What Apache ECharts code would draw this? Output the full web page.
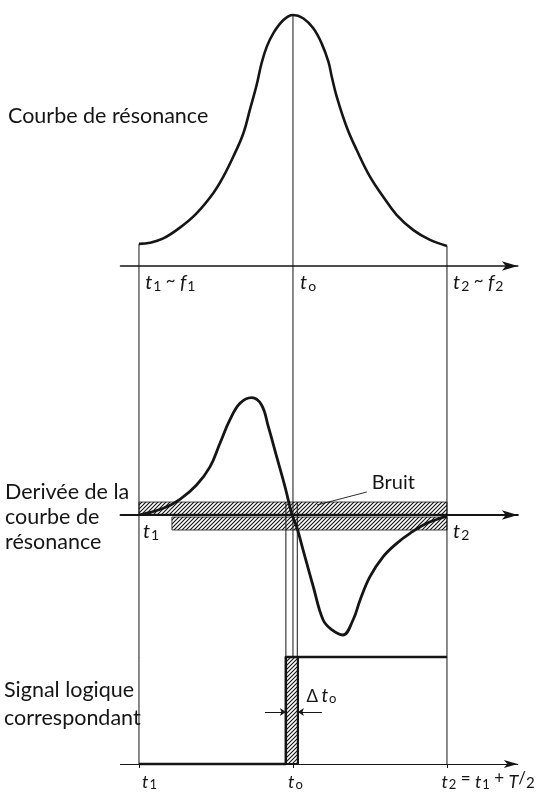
<!DOCTYPE html>
<html>
<head>
<meta charset="utf-8">
<script src="https://cdn.jsdelivr.net/npm/echarts@6/dist/echarts.min.js"></script>
<style>
  html, body { margin: 0; padding: 0; background: #fff; }
  #chart { width: 537px; height: 792px; }
</style>
</head>
<body>
<div id="chart"></div>
<script>
// courbe de résonance (t1 = 0, t0 = 50, t2 = 100)
var resT = [0, 3.6, 7.9, 13.3, 18.7, 24.1, 27.4, 30.6, 33.9, 36.0, 38.2, 39.8, 41.5, 43.6, 46.9, 50,
            53.3, 56.6, 59.3, 61.5, 62.6, 64.2, 67.4, 70.7, 75.0, 79.3, 83.7, 89.1, 94.5, 100];
var resV = [8.8, 9.3, 11.0, 15.3, 21.0, 29.0, 35.6, 43.5, 52.9, 62.2, 72.1, 80.8, 87.4, 92.7, 98.0, 100,
            98.7, 94.7, 88.7, 81.4, 75.4, 67.5, 55.5, 46.2, 35.6, 27.6, 20.3, 14.3, 10.4, 8.0];

// dérivée
var derT = [0, 7.9, 13.3, 18.7, 23.1, 26.3, 29.5, 32.8, 36.6, 39.8, 42.0, 44.7, 47.4, 49.0, 49.7,
            51.2, 53.3, 56.6, 59.8, 62.7, 66.2, 69.5, 71.8, 75.0, 79.3, 83.7, 88.0, 93.4, 99.4, 100];
var derV = [0, 5.6, 13.1, 25, 40.3, 59.8, 79.2, 93.1, 97.8, 91.7, 73.6, 48.6, 23.6, 6.9, 0,
            -9.8, -29.2, -59.8, -87.5, -95.8, -100, -87.5, -70.8, -51.4, -34.7, -23.6, -15.3, -6.9, -1.4, -0.8];

// bandes de bruit [x0, x1, y0, y1]
var noiseBands = [[0, 100, 0.6, 10.8], [10.7, 100, -1.7, -12.5]];
var crossT = [47.7, 51.4];          // entrée / sortie de la bande de bruit
var bruitLeader = [[74.0, 19.2], [57.8, 8.3]];

// signal logique
var signalT = [0, 47.7, 47.7, 100];
var signalV = [0, 0, 1, 1];
var deltaBox = [[47.7, 51.6, 0, 1]];
var deltaArrows = [[[40.9, 0.486], [47.7, 0.486]], [[59.4, 0.486], [51.6, 0.486]]];

var guideT = [0, 50, 100];

// graduations et libellés
var topTicks = [0, 50, 100];
var topLabelAt = [2, 52.3, 102];
var topLabels = ['{t|t}{s|1} ~ {t|f}{s|1}', '{t|t}{s|o}', '{t|t}{s|2} ~ {t|f}{s|2}'];
var midLabelAt = [1.3, 102];
var midLabels = ['{t|t}{s|1}', '{t|t}{s|2}'];
var botTicks = [0, 50, 100];
var botLabelAt = [1, 48.4, 98.2];
var botLabels = ['{t|t}{s|1}', '{t|t}{s|o}', '{t|t}{s|2} = {t|t}{s|1} + {t|T}/{f|2}'];

var ink = '#151515';
var font = 'Lato';

function zip(a, b) {
  return a.map(function (v, i) { return [v, b[i]]; });
}

// motif hachuré
var hatch = document.createElement('canvas');
hatch.width = 4; hatch.height = 4;
(function () {
  var c = hatch.getContext('2d');
  c.strokeStyle = '#111';
  c.lineWidth = 1.1;
  c.beginPath();
  c.moveTo(-1, 5); c.lineTo(5, -1);
  c.moveTo(-1, 1); c.lineTo(1, -1);
  c.moveTo(3, 5); c.lineTo(5, 3);
  c.stroke();
})();
var hatchFill = { image: hatch, repeat: 'repeat' };

function richSet(big, small) {
  return {
    t: { fontFamily: font, fontStyle: 'italic', fontSize: big, color: ink, lineHeight: 24, verticalAlign: 'bottom' },
    s: { fontFamily: font, fontSize: small, color: ink, lineHeight: 24, verticalAlign: 'bottom', padding: [10, 0, 0, 1] },
    f: { fontFamily: font, fontSize: small + 2, color: ink, lineHeight: 24, verticalAlign: 'bottom', padding: [8, 0, 0, 0] },
    d: { fontFamily: font, fontSize: big - 2, color: ink, lineHeight: 24, verticalAlign: 'bottom' }
  };
}
var richText = richSet(20, 14);
var richSmall = richSet(18, 13);

function xAxisFor(grid, ticks, labelAt, labels, lw, arrow, showTick, rich) {
  return {
    gridIndex: grid, type: 'value', min: -6, max: 123,
    axisLine: { onZero: true, symbol: ['none', 'arrow'], symbolSize: arrow, lineStyle: { color: ink, width: lw } },
    axisTick: { show: showTick, customValues: ticks, length: 4, lineStyle: { color: ink } },
    splitLine: { show: false },
    axisLabel: {
      show: !!labels, customValues: labelAt, align: 'left', margin: 3,
      formatter: function (v) { return labels[labelAt.indexOf(v)]; },
      rich: rich, color: ink, fontFamily: font, fontSize: 17
    }
  };
}

function rectItem(params, api) {
  var a = api.coord([api.value(0), api.value(3)]);
  var b = api.coord([api.value(1), api.value(2)]);
  return {
    type: 'rect',
    shape: { x: Math.min(a[0], b[0]), y: Math.min(a[1], b[1]), width: Math.abs(b[0] - a[0]), height: Math.abs(b[1] - a[1]) },
    style: { fill: hatchFill, stroke: ink, lineWidth: params.seriesName === 'delta' ? 2.2 : 0.8 }
  };
}

function seg(grid, pts, w) {
  return {
    type: 'line', xAxisIndex: grid, yAxisIndex: grid, data: pts,
    symbol: 'none', clip: false, silent: true,
    lineStyle: { color: ink, width: w }
  };
}

function textAt(grid, pts, names, label) {
  return {
    type: 'scatter', xAxisIndex: grid, yAxisIndex: grid, symbolSize: 0, silent: true,
    itemStyle: { opacity: 1 },
    data: pts.map(function (p, i) { return { value: p, name: names[i] }; }),
    label: Object.assign({ show: true, color: ink, opacity: 1,
      formatter: function (p) { return p.name; } }, label)
  };
}

var series = [];
// guides verticales
series.push(seg(0, [[guideT[0], resV[0]], [guideT[0], 0]], 1));
series.push(seg(0, [[guideT[1], 100], [guideT[1], 0]], 1));
series.push(seg(0, [[guideT[2], resV[resV.length - 1]], [guideT[2], 0]], 1));
guideT.forEach(function (t) { series.push(seg(1, [[t, 207.5], [t, -118.5]], 1)); });
crossT.forEach(function (t) { series.push(seg(1, [[t, noiseBands[0][3]], [t, -118.5]], 1)); });
series.push(seg(2, [[guideT[0], 1], [guideT[0], 0]], 1));
series.push(seg(2, [[guideT[2], 1], [guideT[2], 0]], 1));

// bruit
series.push({
  type: 'custom', name: 'noise', xAxisIndex: 1, yAxisIndex: 1, data: noiseBands,
  encode: { x: [0, 1], y: [2, 3] }, renderItem: rectItem, silent: true
});
series.push(seg(1, bruitLeader, 0.9));
series.push(textAt(1, [[75.6, 26.7]], ['Bruit'],
  { position: 'right', distance: 0, fontFamily: font, fontSize: 20 }));
// libellés t1 / t2 sur l'axe de la dérivée
series.push(textAt(1, midLabelAt.map(function (x) { return [x, 0]; }), midLabels,
  { position: 'bottom', align: 'left', distance: 3, rich: richText }));

// courbes
series.push({
  type: 'line', xAxisIndex: 0, yAxisIndex: 0, data: zip(resT, resV), smooth: 0.4,
  symbol: 'none', clip: false, lineStyle: { color: ink, width: 2.6 }
});
series.push({
  type: 'line', xAxisIndex: 1, yAxisIndex: 1, data: zip(derT, derV), smooth: 0.4,
  symbol: 'none', clip: false, lineStyle: { color: ink, width: 2.8 }
});

// signal logique
series.push({
  type: 'custom', name: 'delta', xAxisIndex: 2, yAxisIndex: 2, data: deltaBox,
  encode: { x: [0, 1], y: [2, 3] }, renderItem: rectItem, silent: true, clip: false
});
series.push(seg(2, zip(signalT, signalV), 2.4));
series.push({
  type: 'lines', coordinateSystem: 'cartesian2d', xAxisIndex: 2, yAxisIndex: 2, silent: true,
  symbol: ['none', 'arrow'], symbolSize: 6,
  lineStyle: { color: ink, width: 1, opacity: 1 },
  data: deltaArrows.map(function (c) { return { coords: c }; })
});
series.push(textAt(2, [[54.4, 0.66]], ['{d|\u0394} {t|t}{s|o}'],
  { position: 'right', distance: 0, rich: richSet(19, 13) }));

var chart = echarts.init(document.getElementById('chart'), null, { renderer: 'canvas' });
var titleStyle = { fontFamily: font, fontWeight: 'normal', fontSize: 21.5, color: ink };
chart.setOption({
  animation: false,
  backgroundColor: '#fff',
  title: [
    { text: 'Courbe de résonance', left: 8, top: 105, padding: 0, textStyle: titleStyle },
    { text: 'Derivée de la\ncourbe de\nrésonance', left: 5, top: 480, padding: 0,
      textStyle: Object.assign({ lineHeight: 25 }, titleStyle) },
    { text: 'Signal logique\ncorrespondant', left: 4, top: 676, padding: 0,
      textStyle: Object.assign({ lineHeight: 28 }, titleStyle) }
  ],
  grid: [
    { left: 120.5, right: 19.2, top: 10, bottom: 526, outerBoundsMode: 'none' },
    { left: 120.5, right: 19.2, top: 266, bottom: 134.8, outerBoundsMode: 'none' },
    { left: 120.5, right: 19.2, top: 657, bottom: 28, outerBoundsMode: 'none' }
  ],
  xAxis: [
    xAxisFor(0, topTicks, topLabelAt, topLabels, 1.5, [7, 16], false, richText),
    xAxisFor(1, [0, 100], [], null, 2, [7, 16], false, richText),
    xAxisFor(2, botTicks, botLabelAt, botLabels, 1, [6, 14], true, richSmall)
  ],
  yAxis: [
    { gridIndex: 0, type: 'value', min: 0, max: 102, show: false },
    { gridIndex: 1, type: 'value', min: -118.5, max: 207.5, show: false },
    { gridIndex: 2, type: 'value', min: 0, max: 1, show: false }
  ],
  series: series
});
</script>
</body>
</html>
